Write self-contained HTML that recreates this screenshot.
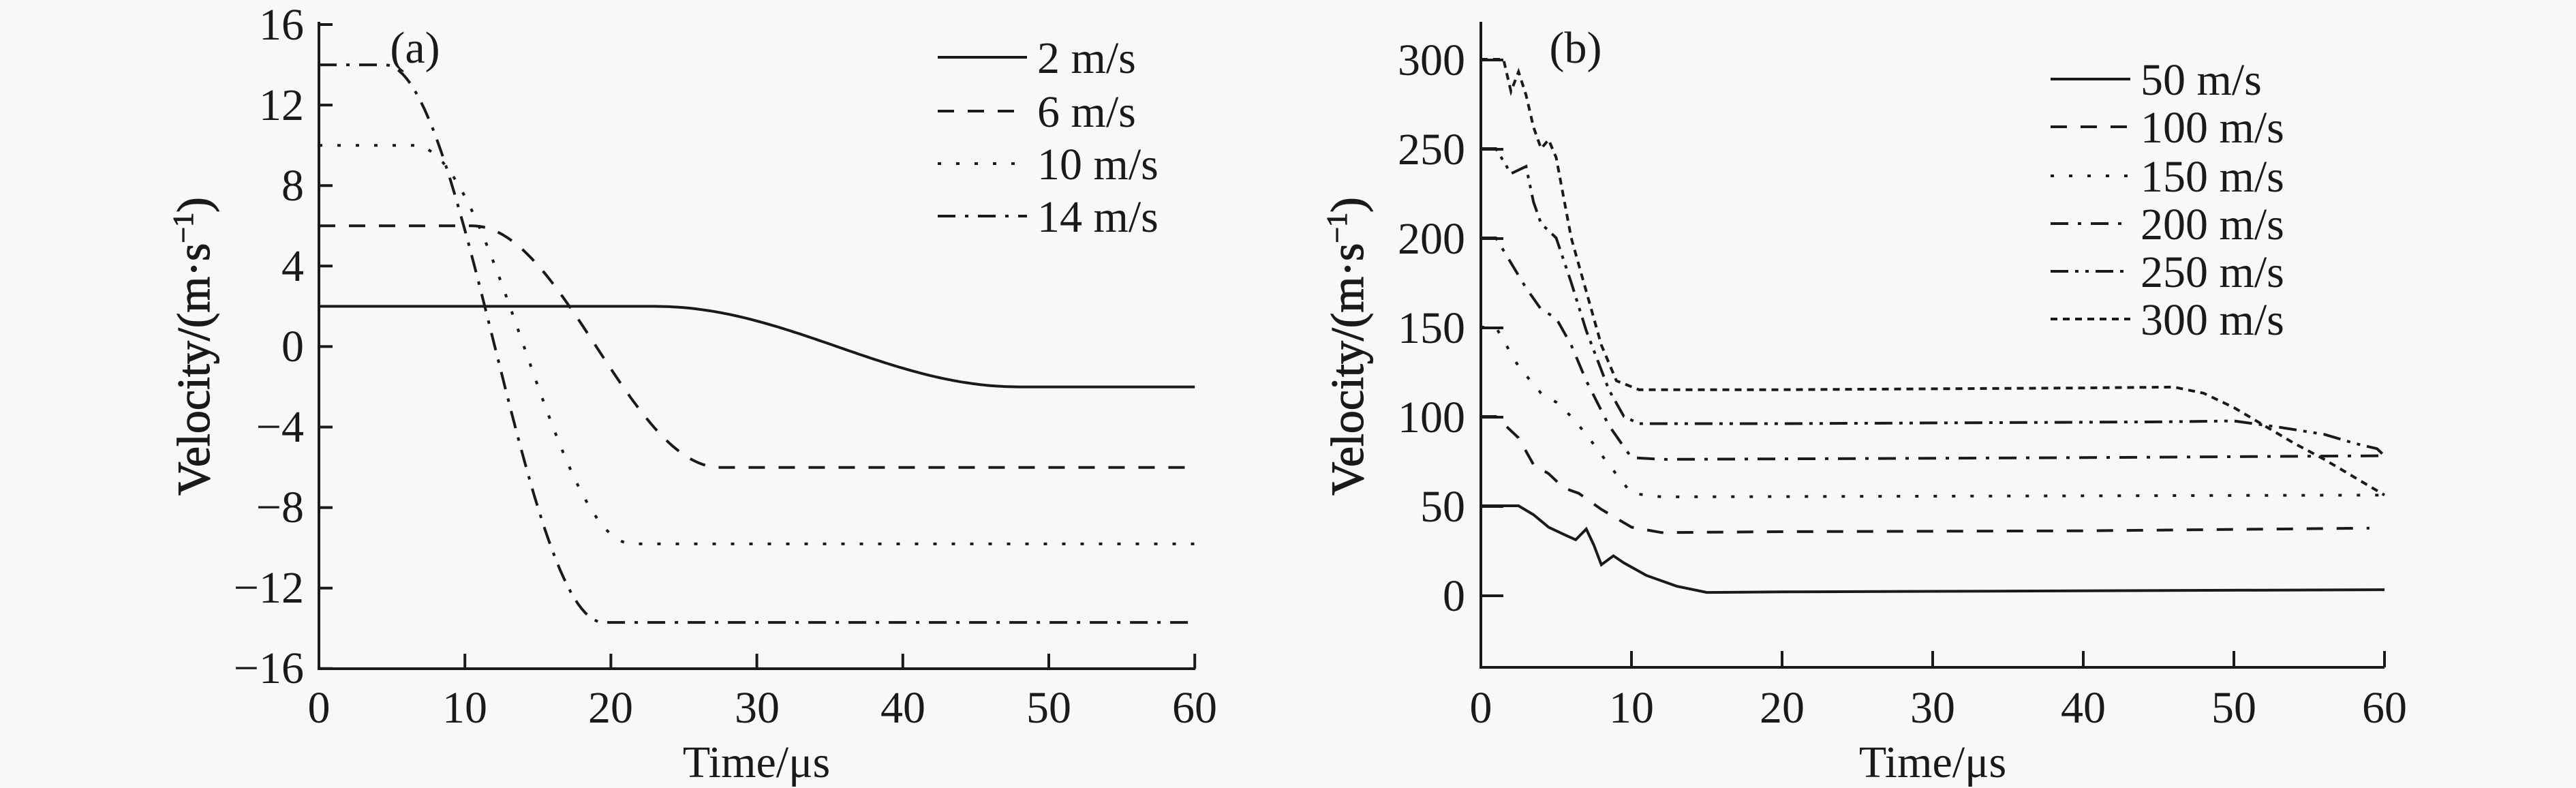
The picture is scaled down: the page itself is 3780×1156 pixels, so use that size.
<!DOCTYPE html>
<html><head><meta charset="utf-8"><style>
html,body{margin:0;padding:0;background:#f8f8f8}
svg{display:block}
text{font-family:"Liberation Serif",serif;fill:#1a1a1a}
</style></head><body>
<svg id="s" width="3780" height="1156" viewBox="0 0 3780 1156" xmlns="http://www.w3.org/2000/svg">
<rect width="3780" height="1156" fill="#f8f8f8"/>
<g id="g" fill="none" stroke="#1a1a1a" stroke-width="4"></g>
<g font-size="66">
<g text-anchor="end">
<text x="446" y="58">16</text><text x="446" y="176">12</text><text x="446" y="294">8</text><text x="446" y="412">4</text><text x="446" y="530">0</text><text x="446" y="648">−4</text><text x="446" y="766">−8</text><text x="446" y="884">−12</text><text x="446" y="1002">−16</text>
</g>
<g text-anchor="middle">
<text x="468" y="1060">0</text><text x="682" y="1060">10</text><text x="896" y="1060">20</text><text x="1111" y="1060">30</text><text x="1325" y="1060">40</text><text x="1539" y="1060">50</text><text x="1753" y="1060">60</text>
<text x="1110" y="1140">Time/μs</text>
<text x="2836" y="1140">Time/μs</text>
<text x="2173" y="1060">0</text><text x="2394" y="1060">10</text><text x="2615" y="1060">20</text><text x="2836" y="1060">30</text><text x="3057" y="1060">40</text><text x="3278" y="1060">50</text><text x="3499" y="1060">60</text>
</g>
<text x="307" y="508" font-size="68" stroke="#1a1a1a" stroke-width="1.2" text-anchor="middle" transform="rotate(-90 307 508)">Velocity/(m·s<tspan dy="-24" font-size="42">−1</tspan><tspan dy="24">)</tspan></text>
<text x="2000" y="508" font-size="68" stroke="#1a1a1a" stroke-width="1.2" text-anchor="middle" transform="rotate(-90 2000 508)">Velocity/(m·s<tspan dy="-24" font-size="42">−1</tspan><tspan dy="24">)</tspan></text>
<text x="609" y="92" text-anchor="middle">(a)</text>
<text x="2312" y="92" text-anchor="middle">(b)</text>
<g text-anchor="end">
<text x="2150" y="110">300</text><text x="2150" y="241">250</text><text x="2150" y="372">200</text><text x="2150" y="503">150</text><text x="2150" y="634">100</text><text x="2150" y="765">50</text><text x="2150" y="896">0</text>
</g>
<text x="1522" y="107">2 m/s</text><text x="1522" y="186">6 m/s</text><text x="1522" y="263">10 m/s</text><text x="1522" y="340">14 m/s</text>
<text x="3141" y="139">50 m/s</text><text x="3141" y="209">100 m/s</text><text x="3141" y="281">150 m/s</text><text x="3141" y="351">200 m/s</text><text x="3141" y="421">250 m/s</text><text x="3141" y="491">300 m/s</text>
</g>
</svg>
<script>
const g=document.getElementById('g');const NS='http://www.w3.org/2000/svg';
function P(d,da){const p=document.createElementNS(NS,'path');p.setAttribute('d',d);if(da)p.setAttribute('stroke-dasharray',da);g.appendChild(p);}
function L(x1,y1,x2,y2,da){P(`M${x1} ${y1}L${x2} ${y2}`,da);}
P('M468 32L468 981L1754 981');
for(let i=0;i<=8;i++){const y=36+i*118.1;L(468,y,488,y);}
for(let i=1;i<=6;i++){const x=468+i*214.2;L(x,981,x,959);}
P('M2173 32L2173 979L3499 979');
for(let i=0;i<=6;i++){const y=88+i*131;L(2173,y,2206,y);}
for(let i=1;i<=6;i++){const x=2173+i*221;L(x,979,x,955);}
const DASH='24 20',DOT='5 22',DD='26 14 5 14',DDD='26 10 5 10 5 10',SD='10 8';
const la=[[84,null],[163,DASH],[240,DOT],[317,DD]];
la.forEach(r=>L(1376,r[0],1507,r[0],r[1]));
const lb=[[116,null],[186,DASH],[258,DOT],[328,DD],[398,DDD],[468,SD]];
lb.forEach(r=>L(3009,r[0],3126,r[0],r[1]));
function sm(u){u=Math.max(0,Math.min(1,u));return (1-Math.cos(Math.PI*u))/2;}
function curveA(v0,v1,t0,t1,da){let d='';for(let t=0;t<=60;t+=0.25){const v=v0+(v1-v0)*sm((t-t0)/(t1-t0));const x=468+t*21.42,y=508.5-v*29.53;d+=(t?'L':'M')+x.toFixed(1)+' '+y.toFixed(1);}P(d,da);}
curveA(2,-2,23,48,null);
curveA(6,-6,10.5,27.5,DASH);
curveA(10,-9.8,6.5,21.5,DOT);
curveA(14,-13.7,4.5,19.5,DD);
function bx(t){return 2173+t*22.1;}function by(v){return 873-v*2.62;}
function pts(a,da){P(a.map((p,i)=>(i?'L':'M')+bx(p[0]).toFixed(1)+' '+by(p[1]).toFixed(1)).join(''),da);}
pts([[0,50],[2.5,50],[3.5,45],[4.5,38],[5.5,34],[6.3,31],[7,37],[7.5,28],[8,17],[8.8,22],[9.5,18],[11,11],[13,5],[15,1.5],[20,1.8],[60,3]],null);
pts([[0,100],[1,100],[2.5,88],[3.5,73],[4.5,68],[5.5,60],[6.5,57],[8,48],[10,38],[12,35],[20,35.5],[40,36],[59,37.5]],DASH);
pts([[0,150],[1,150],[2.5,128],[4,113],[5,108],[6,100],[7,90],[8.5,73],[10,57],[12,55],[60,56]],DOT);
pts([[0,200],[1,200],[2,186],[3,172],[4,160],[5,155],[6,140],[7,120],[8.5,95],[10,77],[12,76],[40,77],[60,78]],DD);
pts([[0,250],[1,250],[2,236],[3,240],[3.5,220],[4,208],[5,200],[6,175],[7,148],[8.5,115],[9.5,100],[10.5,96],[20,96],[45,97],[50,97.5],[53,94],[56,90],[58,85],[59.5,82],[60,78]],DDD);
pts([[0,300],[1.5,300],[2,282],[2.5,293],[3,280],[3.5,262],[4,250],[4.5,255],[5,245],[6,200],[7,170],[8,140],[9,120],[10.5,115],[20,115],[40,116],[46,116.5],[48,113],[50,105],[52,95],[54,85],[56,76],[58,66],[60,56]],SD);
</script>
</body></html>
